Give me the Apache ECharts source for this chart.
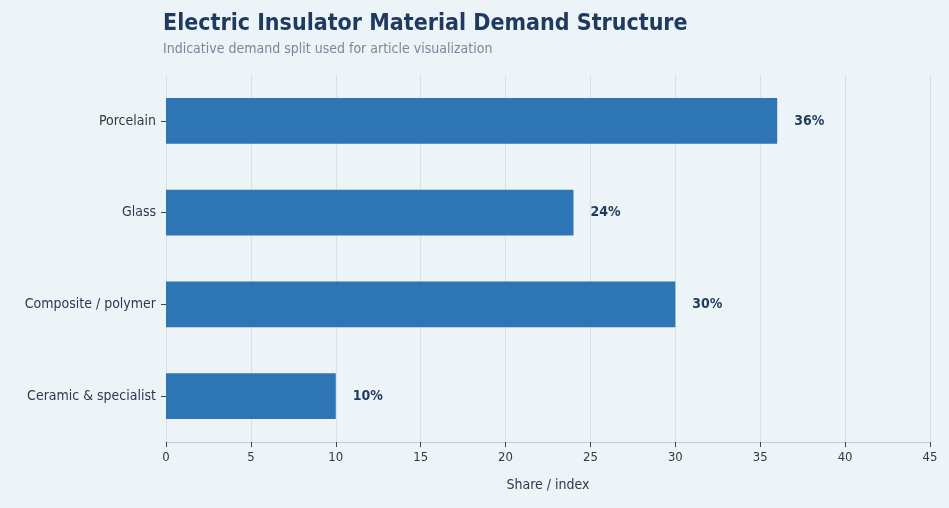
<!DOCTYPE html>
<html>
<head>
<meta charset="utf-8">
<script src="https://cdn.jsdelivr.net/npm/echarts@6/dist/echarts.min.js"></script>
<style>
html,body{margin:0;padding:0;background:#edf4f8;}
#chart{width:949px;height:508px;}
</style>
</head>
<body>
<div id="chart"></div>
<script>
var categories = ['Porcelain', 'Glass', 'Composite / polymer', 'Ceramic & specialist'];
var shares = [36, 24, 30, 10];

var font = '"DejaVu Sans Condensed", "DejaVu Sans", sans-serif';
var myChart = echarts.init(document.getElementById('chart'));
var option = {
	backgroundColor: '#edf4f8',
	textStyle: { fontFamily: font },
	title: {
		text: 'Electric Insulator Material Demand Structure',
		subtext: 'Indicative demand split used for article visualization',
		left: 158,
		top: 8,
		itemGap: 6,
		textStyle: { fontFamily: font, fontSize: 23, fontWeight: 'bold', color: '#1f3a5f' },
		subtextStyle: { fontFamily: font, fontSize: 14, color: '#7a8799' }
	},
	grid: { left: 166, right: 19, top: 75, bottom: 66 },
	xAxis: {
		type: 'value',
		min: 0,
		max: 45,
		interval: 5,
		name: 'Share / index',
		nameLocation: 'middle',
		nameGap: 36,
		nameTextStyle: { color: '#2b3a4e', fontSize: 14, fontFamily: font },
		axisLine: { show: true, lineStyle: { color: '#c3ccd6' } },
		axisTick: { show: true, length: 5, lineStyle: { color: '#3a4656' } },
		axisLabel: { color: '#2b3a4e', fontSize: 13, margin: 9 },
		splitLine: { show: true, lineStyle: { color: '#d9e0e6' } }
	},
	yAxis: {
		type: 'category',
		data: categories,
		inverse: true,
		axisLine: { show: false },
		axisTick: { show: true, alignWithLabel: true, length: 5, lineStyle: { color: '#3a4656' } },
		axisLabel: { color: '#2b3a4e', fontSize: 14, margin: 10 }
	},
	series: [{
		type: 'bar',
		data: shares,
		barWidth: '50%',
		itemStyle: { color: '#2e75b6' },
		label: {
			show: true,
			position: 'right',
			distance: 17,
			formatter: '{c}%',
			color: '#1f3a5f',
			fontWeight: 'bold',
			fontSize: 14,
			fontFamily: font
		}
	}]
};
myChart.setOption(option);
</script>
</body>
</html>
